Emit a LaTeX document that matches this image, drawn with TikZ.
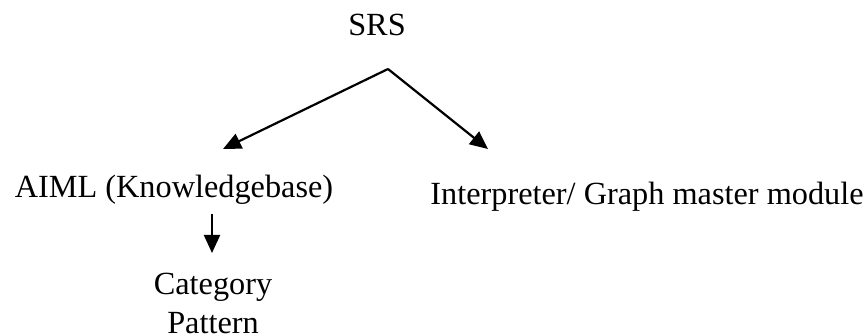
\documentclass[tikz,border=0pt]{standalone}
\usepackage{fontspec}
\setmainfont{Liberation Serif}
\usetikzlibrary{arrows.meta}
\begin{document}
\begin{tikzpicture}[x=1pt,y=-1pt,
  lbl/.style={inner sep=0pt,anchor=base,font=\fontsize{32.3}{38}\selectfont},
  link/.style={line width=2.2pt,-{Triangle[length=18pt,width=16pt]}}]
\path[use as bounding box] (0,0) rectangle (867,336);
% labels
\node[lbl] (srs) at (377,36) {SRS};
\node[lbl] (aiml) at (174,198) {AIML (Knowledgebase)};
\node[lbl] (interp) at (647,205) {Interpreter/ Graph master module};
\node[lbl] (cat) at (213,295) {Category};
\node[lbl] (pat) at (213,334) {Pattern};
% connector ends
\coordinate (fork) at (388,69);
\coordinate (toaiml) at (223,149);
\coordinate (tointerp) at (488,149);
\coordinate (subtop) at (212,214);
\coordinate (subtip) at (212,253);
% connectors
\draw[link] (fork) -- (toaiml);
\draw[link] (fork) -- (tointerp);
\draw[link] (subtop) -- (subtip);
\end{tikzpicture}
\end{document}
